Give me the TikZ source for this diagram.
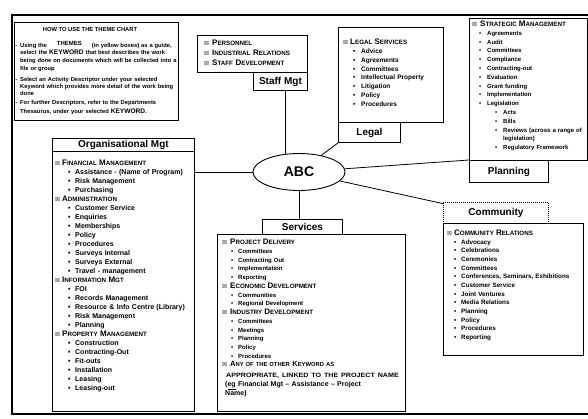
\documentclass[tikz,border=0pt]{standalone}
\usepackage{fontspec}
\usetikzlibrary{shapes.geometric}
\setmainfont{Liberation Sans}
\newfontfamily\symf{DejaVu Sans}
\newlength\ii \newlength\iii \newlength\bw \newlength\hw
\newcommand\fs[2]{\fontsize{#1}{#2}\selectfont\bfseries}
\newcommand\bxs{{\fontsize{5.5}{6}\selectfont\symf ☒}}
\newcommand\smc[1]{\scalebox{0.78}{#1}}
\newcommand\hdr[1]{{\fs{8}{9}\makebox[\hw][l]{\bxs}#1}}
\newcommand\itm[1]{\hspace*{\ii}\makebox[\bw][l]{\textbullet}#1}
\newcommand\subitm[1]{\hspace*{\iii}\makebox[\bw][l]{\textbullet}#1}
\begin{document}
\begin{tikzpicture}[x=1pt,y=-1pt,
  bx/.style={draw, line width=0.9pt, inner sep=0pt, anchor=north west},
  lbl/.style={draw, line width=0.9pt, inner sep=0pt, anchor=north west, font=\fs{10}{12}},
  txt/.style={inner sep=0pt, anchor=base west, align=left, text width=200pt},
  conn/.style={line width=0.8pt}]
\useasboundingbox (0,0) rectangle (588,418);
% outer frame
\draw[line width=1.4pt] (588,15) -- (12,15) -- (12,414) -- (588,414);

% how to use box
\node[bx, minimum width=164, minimum height=98] (htb) at (14,22) {};
\node[inner sep=0pt, anchor=base, font=\fs{5.8}{6}] (htt) at (90,31) {HOW TO USE THE THEME CHART};
\node[txt, font=\fs{5.8}{7.7}] (ht1) at (20,47) {\llap{-\hspace{3pt}}Using the \hspace{8pt}\raisebox{2pt}{\fs{6}{6}THEMES}\hspace{8pt} (in yellow boxes) as a guide,\\
select the {\fs{6.6}{7}KEYWORD} that best describes the work\\
being done on documents which will be collected into a\\
file or group};
\node[txt, font=\fs{5.8}{7.4}] (ht2) at (20,81) {\llap{-\hspace{3pt}}Select an Activity Descriptor under your selected\\
Keyword which provides more detail of the work being\\
done};
\node[txt, font=\fs{5.8}{9}] (ht3) at (20,104) {\llap{-\hspace{3pt}}For further Descriptors, refer to the Departments\\
Thesaurus, under your selected {\fs{6.6}{7}KEYWORD}.};

% Staff Mgt
\node[bx, minimum width=110, minimum height=37] (sfb) at (197,35) {};
\node[lbl, minimum width=54, minimum height=18] (sfl) at (253,72) {Staff Mgt};
\node[txt, font=\fs{8}{10}] (sft) at (204,45.5) {\setlength\hw{8pt}%
\hdr{P\smc{ERSONNEL}}\\
\hdr{I\smc{NDUSTRIAL} R\smc{ELATIONS}}\\
\hdr{S\smc{TAFF} D\smc{EVELOPMENT}}};

% Legal
\node[bx, minimum width=105, minimum height=95] (lgb) at (338,27) {};
\node[lbl, minimum width=62, minimum height=20] (lgl) at (338,122) {Legal};
\node[txt, font=\fs{6.5}{8.86}] (lgt) at (343,44.5) {\setlength\hw{7pt}\setlength\ii{10pt}\setlength\bw{8pt}%
\hdr{L\smc{EGAL} S\smc{ERVICES}}\\
\itm{Advice}\\
\itm{Agreements}\\
\itm{Committees}\\
\itm{Intellectual Property}\\
\itm{Litigation}\\
\itm{Policy}\\
\itm{Procedures}};

% Strategic / Planning
\node[bx, minimum width=118, minimum height=142] (stb) at (469,18) {};
\node[lbl, minimum width=79, minimum height=22] (pll) at (469,160) {Planning};
\node[txt, font=\fs{6}{8.8}] (stt) at (472,26.5) {\setlength\hw{8pt}\setlength\ii{7pt}\setlength\iii{23pt}\setlength\bw{8pt}%
\hdr{S\smc{TRATEGIC} M\smc{ANAGEMENT}}\\
\itm{Agreements}\\
\itm{Audit}\\
\itm{Committees}\\
\itm{Compliance}\\
\itm{Contracting-out}\\
\itm{Evaluation}\\
\itm{Grant funding}\\
\itm{Implementation}\\
\itm{Legislation}\\
\subitm{Acts}\\
\subitm{Bills}\\
\subitm{Reviews (across a range of}\\
\hspace*{31pt}legislation)\\
\subitm{Regulatory Framework}};

% ABC
\node[draw, ellipse, line width=0.9pt, minimum width=92, minimum height=37, inner sep=0pt, font=\fs{14}{16}] (abc) at (299,172) {ABC};

% Organisational Mgt
\node[lbl, minimum width=142, minimum height=13] (ot) at (52,138) {Organisational Mgt};
\node[bx, minimum width=142, minimum height=260] (ob) at (52,151) {};
\node[txt, font=\fs{7}{9}] (obt) at (55,165.5) {\setlength\hw{7pt}\setlength\ii{13pt}\setlength\bw{7pt}%
\hdr{F\smc{INANCIAL} M\smc{ANAGEMENT}}\\
\itm{Assistance - (Name of Program)}\\
\itm{Risk Management}\\
\itm{Purchasing}\\
\hdr{A\smc{DMINISTRATION}}\\
\itm{Customer Service}\\
\itm{Enquiries}\\
\itm{Memberships}\\
\itm{Policy}\\
\itm{Procedures}\\
\itm{Surveys Internal}\\
\itm{Surveys External}\\
\itm{Travel - management}\\
\hdr{I\smc{NFORMATION} M\smc{GT}}\\
\itm{FOI}\\
\itm{Records Management}\\
\itm{Resource \& Info Centre (Library)}\\
\itm{Risk Management}\\
\itm{Planning}\\
\hdr{P\smc{ROPERTY} M\smc{ANAGEMENT}}\\
\itm{Construction}\\
\itm{Contracting-Out}\\
\itm{Fit-outs}\\
\itm{Installation}\\
\itm{Leasing}\\
\itm{Leasing-out}};

% Services
\node[lbl, minimum width=80, minimum height=15] (svl) at (262,219) {Services};
\node[bx, minimum width=188, minimum height=177] (svb) at (217,234) {};
\node[txt, font=\fs{6}{8.77}] (svt) at (222,244.5) {\setlength\hw{8pt}\setlength\ii{9pt}\setlength\bw{7pt}%
\hdr{P\smc{ROJECT} D\smc{ELIVERY}}\\
\itm{Committees}\\
\itm{Contracting Out}\\
\itm{Implementation}\\
\itm{Reporting}\\
\hdr{E\smc{CONOMIC} D\smc{EVELOPMENT}}\\
\itm{Communities}\\
\itm{Regional Development}\\
\hdr{I\smc{NDUSTRY} D\smc{EVELOPMENT}}\\
\itm{Committees}\\
\itm{Meetings}\\
\itm{Planning}\\
\itm{Policy}\\
\itm{Procedures}};
\node[txt, font=\fs{7.5}{10.5}] (svt2) at (222,366.5) {\setlength\hw{8pt}%
{\fs{7.5}{10.5}\makebox[\hw][l]{\bxs}A\smc{NY OF THE OTHER} K\smc{EYWORD AS}}\\
\hspace*{4pt}{\fs{6.2}{10.5}\scalebox{1.15}[1]{APPROPRIATE, LINKED TO THE PROJECT NAME}}};
\node[txt, font=\fs{7}{9}] (svt3) at (225,386.5) {(\underline{eg} Financial Mgt -- Assistance -- Project\\
Name)};

% Community
\node[lbl, minimum width=105, minimum height=21, dash pattern=on 1pt off 1pt] (cml) at (443,202) {Community};
\node[bx, minimum width=140, minimum height=132] (cmb) at (443,223) {};
\node[txt, font=\fs{6.3}{8.67}] (cmt) at (447,235.5) {\setlength\hw{7pt}\setlength\ii{7pt}\setlength\bw{7pt}%
\hdr{C\smc{OMMUNITY} R\smc{ELATIONS}}\\
\itm{Advocacy}\\
\itm{Celebrations}\\
\itm{Ceremonies}\\
\itm{Committees}\\
\itm{Conferences, Seminars, Exhibitions}\\
\itm{Customer Service}\\
\itm{Joint Ventures}\\
\itm{Media Relations}\\
\itm{Planning}\\
\itm{Policy}\\
\itm{Procedures}\\
\itm{Reporting}};

% connectors
\draw[conn] (abc.west) -- (abc.west -| ob.east);
\draw[conn] (abc.126) -- (abc.126 |- sfl.south);
\draw[conn] (abc) -- (lgl.south west);
\draw[conn] (abc) -- (pll.north west);
\draw[conn] (abc) -- (cml.170);
\draw[conn] (abc.south) -- (abc.south |- svl.north);
\end{tikzpicture}
\end{document}
